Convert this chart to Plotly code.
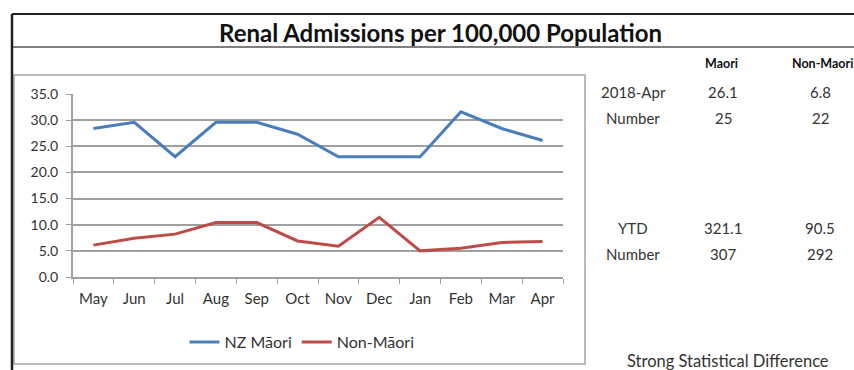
import plotly.graph_objects as go

months = ["May", "Jun", "Jul", "Aug", "Sep", "Oct", "Nov", "Dec", "Jan", "Feb", "Mar", "Apr"]
nz_maori = [28.4, 29.6, 23.0, 29.6, 29.6, 27.3, 23.0, 23.0, 23.0, 31.6, 28.4, 26.1]
non_maori = [6.1, 7.4, 8.2, 10.4, 10.4, 6.9, 5.9, 11.4, 5.0, 5.5, 6.6, 6.8]
y_ticks = [0, 5, 10, 15, 20, 25, 30, 35]

title = "Renal Admissions per 100,000 Population"
table_headers = ["Maori", "Non-Maori"]
table_rows = [
    ("2018-Apr", "26.1", "6.8"),
    ("Number", "25", "22"),
    ("YTD", "321.1", "90.5"),
    ("Number", "307", "292"),
]
footnote = "Strong Statistical Difference"

W, H = 854, 370
FONT = "Lato"
TXT = "#333"

def px(x):
    return x / W

def py(y):
    return 1 - y / H

fig = go.Figure()
fig.add_trace(go.Scatter(x=months, y=nz_maori, mode="lines", name="NZ Māori",
                         line=dict(color="#4a7ebb", width=3)))
fig.add_trace(go.Scatter(x=months, y=non_maori, mode="lines", name="Non-Māori",
                         line=dict(color="#be4b48", width=3)))

fig.update_layout(
    width=W, height=H,
    margin=dict(l=0, r=0, t=0, b=0, pad=0, autoexpand=False),
    paper_bgcolor="white", plot_bgcolor="white",
    font=dict(family=FONT, size=14, color=TXT),
    showlegend=True,
    legend=dict(orientation="h", x=px(302), xanchor="center", y=py(342), yanchor="middle",
                font=dict(size=16, color=TXT), bgcolor="rgba(0,0,0,0)",
                itemwidth=30, tracegroupgap=0),
    xaxis=dict(domain=[px(73), px(563)], type="category", range=[-0.5, 11.5],
               showgrid=False, showline=True, linecolor="#a0a0a0", linewidth=2,
               ticks="outside", tickson="boundaries", ticklen=5, tickcolor="#a0a0a0",
               ticklabelstandoff=7,
               tickfont=dict(size=15, color=TXT), fixedrange=True, automargin=False),
    yaxis=dict(domain=[py(277), py(94)], range=[0, 35], tickvals=y_ticks,
               ticktext=[f"{v:.1f}" for v in y_ticks],
               showgrid=True, gridcolor="#a0a0a0", gridwidth=2,
               showline=True, linecolor="#a0a0a0", linewidth=2,
               ticks="outside", ticklen=5, tickcolor="#a0a0a0",
               ticklabelstandoff=5,
               zeroline=False, tickfont=dict(size=14, color=TXT), fixedrange=True,
               automargin=False),
)

shapes = [
    # chart box
    dict(type="rect", xref="paper", yref="paper", x0=px(14), x1=px(585), y0=py(364), y1=py(75),
         line=dict(color="#a6a6a6", width=1.5)),
    # title separator
    dict(type="line", xref="paper", yref="paper", x0=px(12), x1=1, y0=py(47), y1=py(47),
         line=dict(color="#7f7f7f", width=2)),
    # outer frame top
    dict(type="line", xref="paper", yref="paper", x0=px(12), x1=1, y0=py(14), y1=py(14),
         line=dict(color="#222", width=2)),
    # outer frame left
    dict(type="line", xref="paper", yref="paper", x0=px(12), x1=px(12), y0=0, y1=py(14),
         line=dict(color="#222", width=2.5)),
]
fig.update_layout(shapes=shapes)

def note(text, x, y, size, bold=False):
    return dict(text=f"<b>{text}</b>" if bold else text, x=px(x), y=py(y),
                xref="paper", yref="paper", xanchor="center", yanchor="middle",
                showarrow=False, font=dict(size=size, color="#111" if bold else TXT))

ann = [note(title, 440, 32, 24, bold=True)]
ann.append(note(table_headers[0], 721, 63, 12.5, bold=True))
ann.append(note(table_headers[1], 822, 63, 12.5, bold=True))
col_x = [633, 723, 820]
row_y = [92, 118, 228, 254]
for (lab, a, b), yy in zip(table_rows, row_y):
    for txt, xx in zip((lab, a, b), col_x):
        ann.append(note(txt, xx, yy, 15))
ann.append(note(footnote, 728, 361, 16.5))
fig.update_layout(annotations=ann)

fig.write_html("out.html")
